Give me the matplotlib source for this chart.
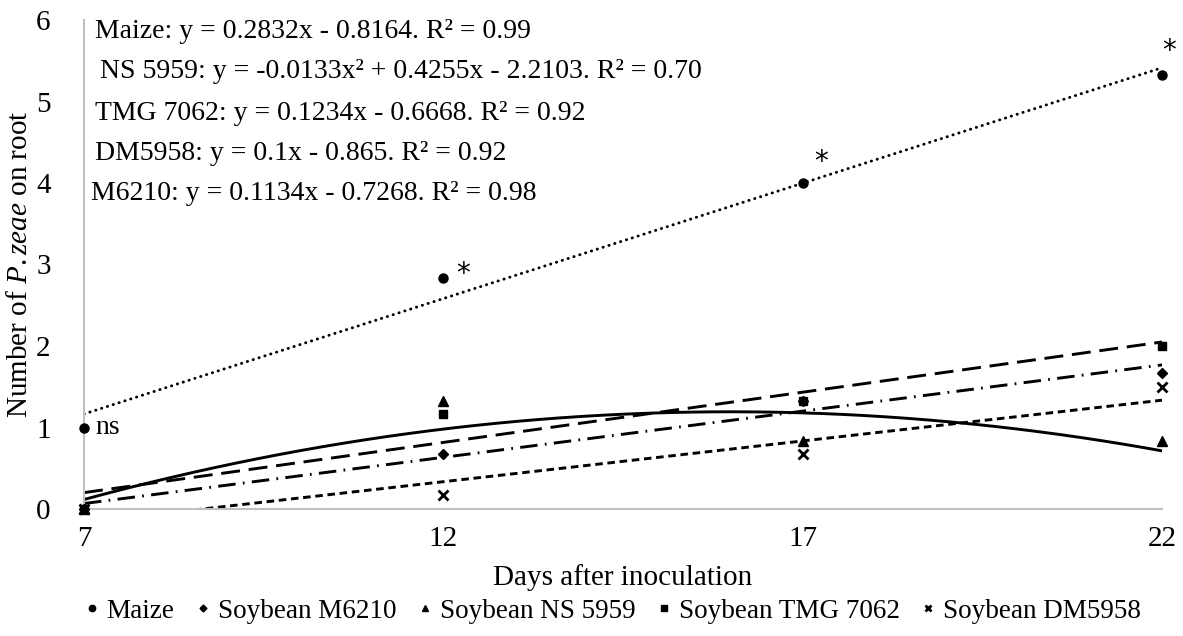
import matplotlib
matplotlib.use("Agg")
import matplotlib.pyplot as plt
import numpy as np

plt.rcParams['font.family'] = ['Liberation Serif', 'DejaVu Serif']
plt.rcParams['mathtext.fontset'] = 'custom'
plt.rcParams['mathtext.rm'] = 'Liberation Serif'
plt.rcParams['mathtext.it'] = 'Liberation Serif:italic'

days = [7, 12, 17, 22]
maize = [1.0, 2.83, 4.0, 5.33]
m6210 = [0.0, 0.67, 1.33, 1.67]
ns5959 = [0.0, 1.33, 0.83, 0.83]
tmg7062 = [0.0, 1.17, 1.33, 2.0]
dm5958 = [0.0, 0.17, 0.67, 1.5]

labels = ["Maize", "Soybean M6210", "Soybean NS 5959", "Soybean TMG 7062", "Soybean DM5958"]
equations = [
    "Maize: y = 0.2832x - 0.8164. R² = 0.99",
    "NS 5959: y = -0.0133x² + 0.4255x - 2.2103. R² = 0.70",
    "TMG 7062: y = 0.1234x - 0.6668. R² = 0.92",
    "DM5958: y = 0.1x - 0.865. R² = 0.92",
    "M6210: y = 0.1134x - 0.7268. R² = 0.98",
]
signif = ["ns", "*", "*", "*"]

fig = plt.figure(figsize=(11.83, 6.36), dpi=100)
ax = fig.add_axes([84/1183, 1-509/636, (1162-84)/1183, (509-20)/636])

series = [maize, m6210, ns5959, tmg7062, dm5958]
markers = ['o', 'D', '^', 's', 'x']
msizes = [6.5, 5, 6.5, 6, 6.5]
degs = [1, 1, 2, 1, 1]
styles = [(0, (0.1, 2.0)), (0, (6, 2.5, 0.6, 2.5)), '-', (0, (6.5, 3)), (0, (2.6, 1.6))]
caps = ['round', 'butt', 'butt', 'butt', 'butt']

xs = np.linspace(days[0], days[-1], 200)
for y, m, ms, d, ls, cap, lab in zip(series, markers, msizes, degs, styles, caps, labels):
    coef = np.polyfit(days, y, d)
    ax.plot(xs, np.polyval(coef, xs), color='black', lw=2.1, linestyle=ls,
            dash_capstyle=cap, zorder=2)
    ax.plot(days, y, linestyle='none', marker=m, color='black', markersize=ms,
            markeredgewidth=2 if m == 'x' else 1, clip_on=False, zorder=3, label=lab)

# significance marks for maize
offs = [(8, 0), (14, 3), (13, 15), (5, 17)]
for xv, yv, s, o in zip(days, maize, signif, offs):
    if s == 'ns':
        ax.annotate(s, (xv, yv), xytext=o, textcoords='offset points',
                    fontsize=20, va='center', ha='left')
    else:
        ax.annotate(s, (xv, yv), xytext=o, textcoords='offset points',
                    fontsize=20, va='center', ha='center', family='DejaVu Sans')

ax.set_xlim(7, 22)
ax.set_ylim(0, 6)
ax.set_xticks(days)
ax.set_yticks(range(0, 7))
ax.tick_params(axis='x', length=0, labelsize=21, pad=12)
ax.tick_params(axis='y', length=0, labelsize=21, pad=24)
for sp in ['top', 'right']:
    ax.spines[sp].set_visible(False)
for sp in ['left', 'bottom']:
    ax.spines[sp].set_color('#BFBFBF')
    ax.spines[sp].set_linewidth(1.5)

ax.set_xlabel("Days after inoculation", fontsize=21, labelpad=9)
ax.set_ylabel("Number of $\\it{P. zeae}$ on root", fontsize=21, labelpad=2)

ypos = [32, 72, 113, 153, 193]
xpos = [95, 100, 95, 95, 91]
for t, yp, xp in zip(equations, ypos, xpos):
    fig.text(xp/1183, 1-yp/636, t, fontsize=20, va='center', ha='left')

handles, labs = ax.get_legend_handles_labels()
leg = fig.legend(handles, labs, loc='center', bbox_to_anchor=(0.518, 1-611/636),
                 ncol=5, frameon=False, fontsize=19.5, handlelength=0.5,
                 handletextpad=0.3, columnspacing=0.8, markerscale=0.7)

fig.savefig("out.png", dpi=100)
